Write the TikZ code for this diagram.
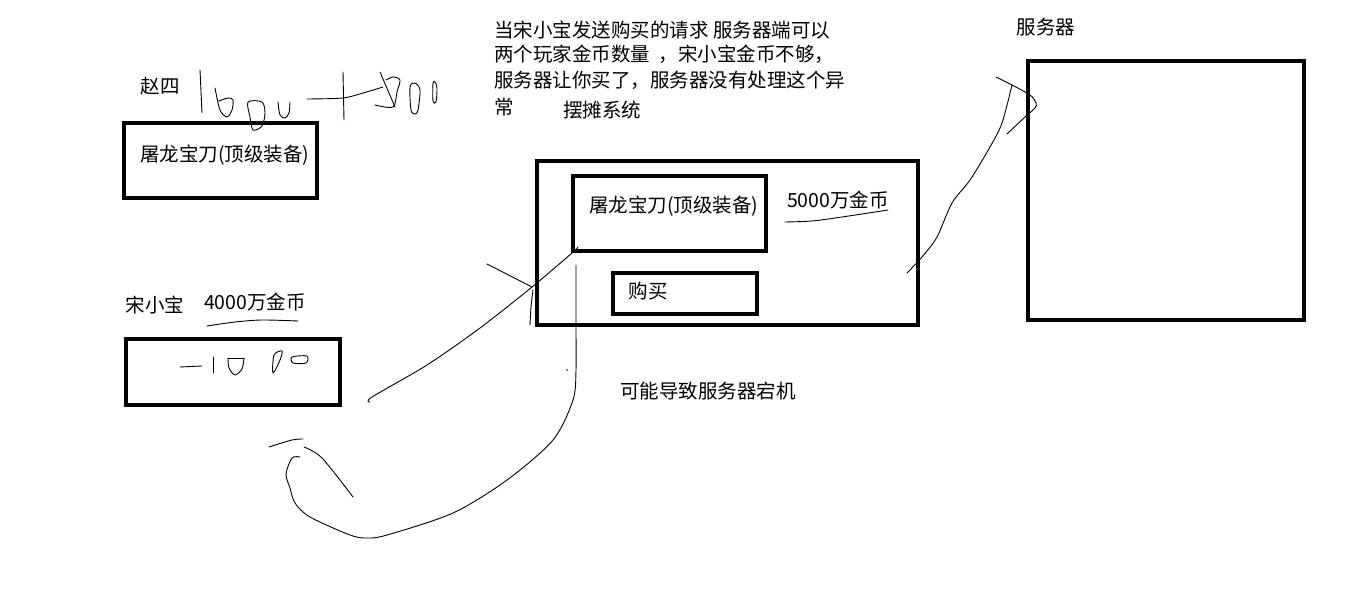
\documentclass[tikz,border=0pt]{standalone}
\usepackage{fontspec}
\setmainfont{Noto Sans CJK SC}
\tikzset{
  frame/.style={draw, line width=4.5pt, inner sep=0pt},
  pen/.style={line width=0.9pt, line cap=round, line join=round},
  txt/.style={font=\fontsize{19.5}{24}\selectfont, inner sep=0pt},
}
\begin{document}
\begin{tikzpicture}[x=1pt, y=-1pt]
    \useasboundingbox (0,0) rectangle (1360,604);

    % boxes
    \node[frame, minimum width=193pt, minimum height=75pt] (zhaobox) at (220.5,160.5) {};
    \node[frame, minimum width=214pt, minimum height=66pt] (songbox) at (233,372) {};
    \node[frame, minimum width=381pt, minimum height=164pt] (stall) at (727.5,243) {};
    \node[frame, minimum width=193pt, minimum height=75pt] (itembox) at (669.5,213.5) {};
    \node[frame, minimum width=144pt, minimum height=41pt] (buy) at (685,293.5) {};
    \node[frame, minimum width=276pt, minimum height=259pt] (server) at (1166,190.5) {};

    % texts
    \node[txt] (zhao) at (160,86) {赵四};
    \node[txt, anchor=west] (sword1) at (140,155) {屠龙宝刀(顶级装备)};
    \node[txt] (song) at (155,305) {宋小宝};
    \node[txt] (gold1) at (255,302) {4000万金币};
    \node[txt, anchor=west] (sword2) at (589,206) {屠龙宝刀(顶级装备)};
    \node[txt] (gold2) at (838,200) {5000万金币};
    \node[txt] (buytext) at (648,291) {购买};
    \node[txt] (crash) at (708,391) {可能导致服务器宕机};
    \node[txt] (servername) at (1046,27) {服务器};
    \foreach \t/\y [count=\i] in {{当宋小宝发送购买的请求 服务器端可以}/30,
        {两个玩家金币数量 \ ，宋小宝金币不够，}/54,
        {服务器让你买了，服务器没有处理这个异}/80,
        {常}/107}
        \node[txt, anchor=west] (note\i) at (494,\y) {\t};
    \node[txt, anchor=west] (system) at (563,110) {摆摊系统};

    % handwriting 1000 + 1000
    \draw[pen] (200,70) -- (202,113);
    \draw[pen] plot[smooth] coordinates {(215,88) (220,110) (227,117) (232,110) (233,100) (228,98) (219,101)};
    \draw[pen] plot[smooth cycle] coordinates {(248,102) (262,102) (265,113) (262,126) (253,130) (250,117)};
    \draw[pen] plot[smooth] coordinates {(278,102) (280,115) (285,118) (289,113) (290,102)};
    \draw[pen] plot[smooth] coordinates {(307,99) (343,98) (363,93) (383,87)};
    \draw[pen] (343,72) -- (344,120);
    \draw[pen] (380,72) -- (395,107);
    \draw[pen] plot[smooth] coordinates {(375,105) (393,107) (397,92) (400,80) (393,77) (386,80)};
    \draw[pen] plot[smooth cycle] coordinates {(410,87) (411,110) (415,114) (418,110) (420,90) (415,83)};
    \draw[pen] plot[smooth cycle] coordinates {(433,83) (433,101) (436,102) (437,88) (435,82)};

    % handwriting -1000
    \draw[pen] (180,367) -- (202,366);
    \draw[pen] (213,357) -- (213,373);
    \draw[pen] plot[smooth] coordinates {(228,358) (229,368) (235,375) (242,369) (244,358)};
    \draw[pen] (228,358) -- (244,358);
    \draw[pen] plot[smooth cycle] coordinates {(274,355) (282,351) (280,360) (273,373)};
    \draw[pen] plot[smooth cycle] coordinates {(292,357) (307,356) (306,363) (293,363)};

    % underlines
    \draw[pen] plot[smooth] coordinates {(207,326) (235,322) (262,320) (298,321)};
    \draw[pen] plot[smooth] coordinates {(785,222) (812,221) (842,217) (888,210)};

    % request: song -> stall
    \coordinate (reqstart) at (370,402);
    \coordinate (reqtip) at (532,287);
    \draw[pen] plot[smooth] coordinates {(reqstart) (372,397) (427,365) (480,328) (reqtip) (572,253) (578,247)};
    \draw[pen] (487,264) -- (reqtip);
    \draw[pen] plot[smooth] coordinates {(533,290) (531,307) (530,325)};

    % back to song
    \coordinate (backstart) at (576,265);
    \draw[pen] plot[smooth] coordinates {(backstart) (576,330) (576,370) (573,400) (553,440) (507,480)
        (453,513) (387,535) (367,538) (350,535) (310,517) (295,503) (290,488) (286,474) (292,458) (300,457)};
    \draw[pen] plot[smooth] coordinates {(269,447) (292,440) (303,439)};
    \draw[pen] plot[smooth] coordinates {(304,447) (322,458) (353,497)};
    \fill (567,370) circle (0.9);

    % stall -> server
    \coordinate (upstart) at (907,273);
    \draw[pen] plot[smooth] coordinates {(upstart) (922,257) (937,237) (952,203) (970,180) (990,147) (1002,123) (1012,85)};
    \draw[pen] plot[smooth] coordinates {(996,77) (1012,85) (1030,95) (1036,103) (1035,108) (1025,117) (1007,134)};
\end{tikzpicture}
\end{document}
